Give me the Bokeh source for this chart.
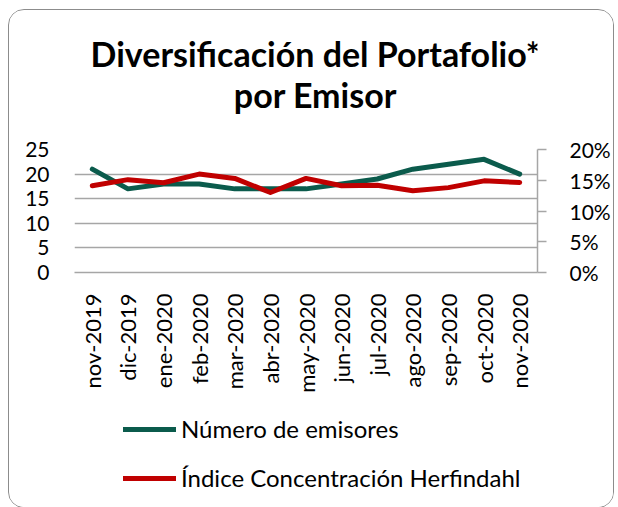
from bokeh.plotting import figure
from bokeh.layouts import column
from bokeh.models import (Range1d, LinearAxis, FixedTicker, NumeralTickFormatter,
                          Legend, LegendItem, FactorRange, ColumnDataSource)
from bokeh.core.properties import value
from bokeh.embed import file_html
from bokeh.resources import INLINE
import math

months = ["nov-2019", "dic-2019", "ene-2020", "feb-2020", "mar-2020", "abr-2020",
          "may-2020", "jun-2020", "jul-2020", "ago-2020", "sep-2020", "oct-2020", "nov-2020"]
num_emisores = [21, 17, 18, 18, 17, 17, 17, 18, 19, 21, 22, 23, 20]
herfindahl = [0.141, 0.151, 0.146, 0.160, 0.153, 0.130, 0.153, 0.141, 0.142, 0.133, 0.138, 0.149, 0.1465]
left_ticks = [0, 5, 10, 15, 20, 25]
right_ticks = [0, 0.05, 0.10, 0.15, 0.20]

title_lines = ["Diversificación del Portafolio*", "por Emisor"]
label_1 = "Número de emisores"
label_2 = "Índice Concentración Herfindahl"

FONT = "Lato"
GREEN = "#0B5B4C"
RED = "#C00000"
GRID = "#A6A6A6"
W = 604
FL, FR = 65, 74          # left / right borders (frame spans 465 px)

src = ColumnDataSource(dict(m=months, n=num_emisores, h=herfindahl))


def bare(fig):
    fig.axis.visible = False
    fig.grid.visible = False
    return fig


# ---- title block -------------------------------------------------------
t = bare(figure(width=W, height=119, output_backend="svg", toolbar_location=None,
                x_range=Range1d(0, 465), y_range=Range1d(0, 119),
                min_border_left=FL, min_border_right=FR, min_border_top=0, min_border_bottom=0,
                outline_line_color=None, background_fill_color="white", border_fill_color="white"))
tsrc = ColumnDataSource(dict(x=[242, 242], y=[76, 35], text=title_lines))
t.text(x="x", y="y", text="text", source=tsrc, text_align="center", text_baseline="middle",
       text_font=value(FONT), text_font_size="34px", text_font_style="bold", text_color="black")

# ---- chart -------------------------------------------------------------
p = figure(width=W, height=266, output_backend="svg", toolbar_location=None,
           x_range=FactorRange(*months, range_padding=0),
           y_range=Range1d(0, 25),
           min_border_left=FL, min_border_right=FR, min_border_top=20, min_border_bottom=123,
           outline_line_color=None, background_fill_color="white", border_fill_color="white")
p.extra_y_ranges = {"pct": Range1d(0, 0.20)}

p.yaxis.ticker = FixedTicker(ticks=left_ticks)
p.yaxis.axis_line_color = None
p.yaxis.major_tick_line_color = None
p.yaxis.minor_tick_line_color = None
p.yaxis.major_label_standoff = 19
p.yaxis.major_label_text_font = FONT
p.yaxis.major_label_text_font_size = "21px"
p.yaxis.major_label_text_color = "black"

ra = LinearAxis(y_range_name="pct", ticker=FixedTicker(ticks=right_ticks),
                formatter=NumeralTickFormatter(format="0%"))
ra.axis_line_color = GRID
ra.axis_line_width = 1.5
ra.major_tick_line_color = GRID
ra.major_tick_line_width = 1.5
ra.major_tick_out = 9
ra.major_tick_in = 0
ra.minor_tick_line_color = None
ra.major_label_standoff = 23
ra.major_label_text_font = FONT
ra.major_label_text_font_size = "21px"
ra.major_label_text_color = "black"
p.add_layout(ra, "right")

p.xaxis.axis_line_color = GRID
p.xaxis.axis_line_width = 1.5
p.xaxis.major_tick_line_color = None
p.xaxis.minor_tick_line_color = None
p.xaxis.major_label_orientation = math.pi / 2
p.xaxis.major_label_standoff = 15
p.xaxis.major_label_text_font = FONT
p.xaxis.major_label_text_font_size = "22px"
p.xaxis.major_label_text_color = "black"

p.xgrid.grid_line_color = None
p.ygrid.ticker = FixedTicker(ticks=left_ticks)
p.ygrid.grid_line_color = GRID
p.ygrid.grid_line_width = 1.5

p.line("m", "n", source=src, line_color=GREEN, line_width=5, line_join="round", line_cap="round")
p.line("m", "h", source=src, y_range_name="pct", line_color=RED, line_width=5,
       line_join="round", line_cap="round")

# ---- legend block (keys drawn by Bokeh's Legend; proxy lines lie outside the view) ----
q = bare(figure(width=W, height=112, output_backend="svg", toolbar_location=None,
                x_range=FactorRange(*months, range_padding=0), y_range=Range1d(-10, -5),
                min_border_left=FL, min_border_right=FR, min_border_top=0, min_border_bottom=0,
                outline_line_color=None, background_fill_color="white", border_fill_color="white"))
k1 = q.line("m", "n", source=src, line_color=GREEN, line_width=5, line_cap="round")
k2 = q.line("m", "h", source=src, line_color=RED, line_width=5, line_cap="round")
legend = Legend(items=[LegendItem(label=label_1, renderers=[k1]),
                       LegendItem(label=label_2, renderers=[k2])],
                location=(49, 15), orientation="vertical",
                padding=0, margin=0, spacing=20, glyph_width=53, glyph_height=26,
                label_standoff=5, label_text_font=FONT, label_text_font_size="24px",
                label_text_color="black", border_line_color=None, background_fill_alpha=0)
q.add_layout(legend, "center")

layout = column(t, p, q, spacing=0,
                styles={"margin-left": "8px", "margin-top": "9px",
                        "border": "1.5px solid #8C8C8C", "border-radius": "16px",
                        "overflow": "hidden"})

open("out.html", "w").write(file_html(layout, INLINE))
